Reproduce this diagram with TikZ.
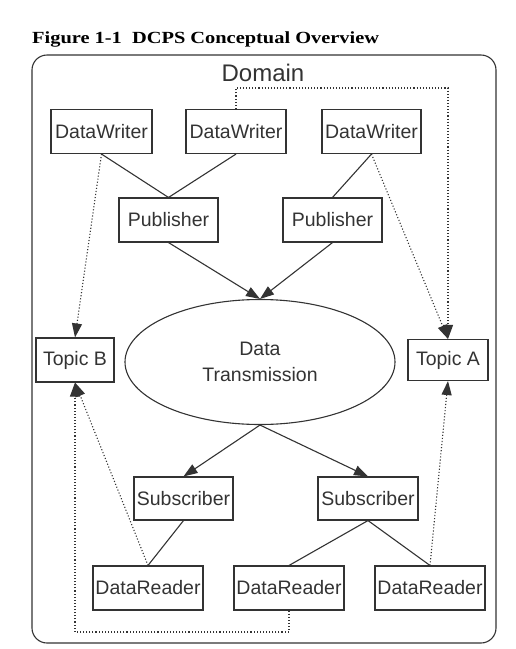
\documentclass[tikz,border=0pt]{standalone}
\usepackage{fontspec}
\setmainfont{Liberation Sans}
\newfontfamily\titlefont{Liberation Serif}
\usetikzlibrary{arrows.meta,shapes.geometric}
\definecolor{ink}{HTML}{333333}

\begin{document}
\begin{tikzpicture}[x=1pt,y=-1pt,
  box/.style={draw=ink,line width=1.1pt,inner sep=0pt,minimum height=44pt,
    text=ink,font=\fontsize{19.5}{22}\selectfont},
  link/.style={draw=ink,line width=1.1pt},
  flow/.style={link,-{Triangle[length=14pt,width=10pt]}},
  ref/.style={link,dotted,-{Triangle[length=14pt,width=10pt]}}]
\useasboundingbox (0,0) rectangle (515,649);

\node[anchor=base west,inner sep=0pt] (title) at (32,43)
  {\scalebox{1.2}[1]{\titlefont\bfseries\fontsize{17}{20}\selectfont Figure 1-1\ \ DCPS Conceptual Overview}};
\node[draw=ink,line width=1.1pt,rounded corners=15pt,minimum width=464pt,
  minimum height=588pt,inner sep=0pt] (domain) at (264,349) {};
\node[text=ink,font=\fontsize{24}{28}\selectfont] (domainlabel) at (263,73) {Domain};

\node[box,minimum width=101pt] (dw1) at (101.5,131.5) {DataWriter};
\node[box,minimum width=100pt] (dw2) at (236,131.5) {DataWriter};
\node[box,minimum width=99pt]  (dw3) at (371.5,131.5) {DataWriter};
\node[box,minimum width=99pt]  (pub1) at (168.5,220) {Publisher};
\node[box,minimum width=99pt]  (pub2) at (332.5,220) {Publisher};
\node[box,minimum width=78pt]  (tb) at (75,360) {Topic B};
\node[box,minimum width=80pt,minimum height=41pt] (ta) at (448,360) {Topic A};
\node[box,ellipse,minimum width=270pt,minimum height=125pt,align=center,
  font=\fontsize{19.5}{26}\selectfont] (data) at (260,362) {Data\\Transmission};
\node[box,minimum width=99pt,minimum height=43pt]  (sub1) at (183.5,498.5) {Subscriber};
\node[box,minimum width=100pt,minimum height=43pt] (sub2) at (368,498.5) {Subscriber};
\node[box,minimum width=110pt] (dr1) at (148,588) {DataReader};
\node[box,minimum width=110pt] (dr2) at (289,588) {DataReader};
\node[box,minimum width=110pt] (dr3) at (430,588) {DataReader};

% writers, publishers, subscribers, readers
\foreach \a/\b in {dw1/pub1, dw2/pub1, dw3/pub2, sub1/dr1, sub2/dr2, sub2/dr3}
  \draw[link] (\a.south) -- (\b.north);
\foreach \a/\b in {pub1/data, pub2/data}
  \draw[flow] (\a.south) -- (\b.north);
\foreach \b in {sub1, sub2}
  \draw[flow] (data.south) -- (\b.north);

% topic links
\coordinate (wbend) at (448,88);
\coordinate (rbend) at (75,632);
\draw[ref] (dw1.south) -- (tb.north);
\draw[ref] (dw3.south) -- (ta.north);
\draw[ref] (dw2.north) |- (wbend) -- (ta.north);
\draw[ref] (dr1.north) -- (tb.south);
\draw[ref] (dr3.north) -- (ta.south);
\draw[ref] (dr2.south) |- (rbend) -- (tb.south);

\end{tikzpicture}
\end{document}
